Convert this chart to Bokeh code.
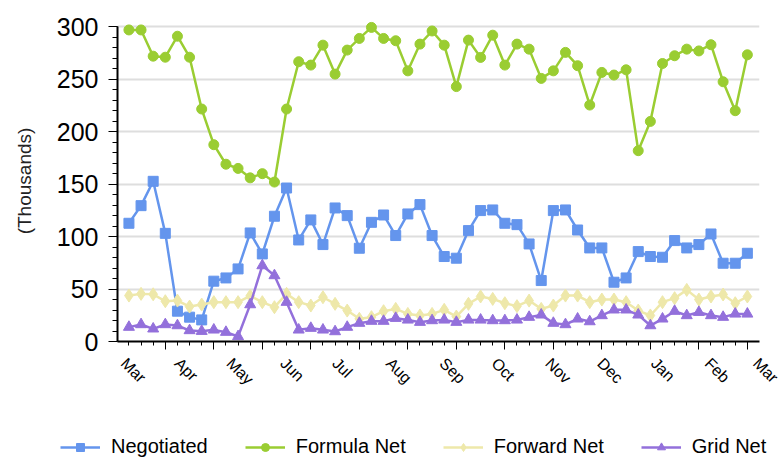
import numpy as np
from bokeh.plotting import figure
from bokeh.layouts import column
from bokeh.models import (FixedTicker, LinearAxis, Range1d, Legend, LegendItem,
                          CustomLabelingPolicy)
from bokeh.embed import file_html
from bokeh.resources import INLINE

# Weekly categories: days since the first week
week_days = [7 * i for i in range(52)]

negotiated = [112.7, 129.5, 152.7, 103.1, 28.9, 23.2, 20.6, 57.5, 60.6, 69.2,
              103.5, 83.5, 119.4, 146.3, 96.8, 115.9, 92.4, 127.3, 120.0, 88.9,
              113.6, 120.6, 101.0, 121.6, 130.5, 101.0, 81.0, 79.4, 105.7, 124.8,
              125.4, 112.7, 111.4, 93.0, 58.1, 124.8, 125.4, 106.3, 89.2, 89.2,
              56.5, 60.6, 85.7, 81.0, 80.3, 96.2, 89.2, 92.4, 102.5, 74.6,
              74.6, 84.1]
formula_net = [297, 297, 272, 271, 291, 271, 221.6, 187.6, 169, 165,
               156, 160, 152, 221.6, 266.7, 263.5, 282.5, 254.9, 277.8, 288.9,
               299.4, 288.9, 286.7, 258, 283.5, 296, 282.5, 243, 287.3, 270.8,
               292, 263.5, 283.5, 278.7, 250.8, 258, 275.6, 262.9, 225.4, 256.5,
               254, 259, 181.9, 209.8, 265, 272.4, 278.7, 277, 282.9, 247.6,
               220, 273.3]
forward_net = [43.8, 45.4, 45.0, 38.4, 39.0, 33.3, 35.2, 37.5, 37.5, 37.5,
               43.5, 37.5, 32.7, 45.4, 37.5, 34.3, 42.2, 35.9, 29.5, 21.6,
               23.2, 28.9, 31.1, 26.3, 24.8, 26.3, 30.2, 23.8, 35.9, 42.9,
               40.6, 36.5, 33.7, 39.0, 31.1, 34.3, 43.8, 43.8, 37.5, 40.0,
               40.0, 37.5, 29.5, 24.8, 37.5, 41.3, 49.2, 40.0, 42.9, 44.8,
               36.5, 42.9]
grid_net = [13.7, 16.2, 12.1, 16.2, 15.2, 10.5, 9.8, 11.1, 8.9, 4.8,
            35.2, 72.4, 62.9, 37.5, 11.1, 12.7, 11.1, 9.5, 13.7, 17.5,
            19.4, 19.4, 22.2, 20.6, 18.4, 20.0, 20.6, 18.4, 20.6, 20.6,
            20.0, 20.0, 20.6, 23.2, 25.4, 17.5, 16.2, 21.6, 19.0, 24.8,
            30.2, 30.2, 25.4, 15.2, 21.6, 28.9, 24.8, 27.9, 24.8, 23.2,
            26.3, 26.3]

month_labels = ["Mar", "Apr", "May", "Jun", "Jul", "Aug", "Sep",
                "Oct", "Nov", "Dec", "Jan", "Feb", "Mar"]
month_start_days = [2, 33, 63, 94, 124, 155, 186, 216, 247, 277, 308, 339, 367]
y_ticks = [0, 50, 100, 150, 200, 250, 300]

FONT = "Liberation Sans"

p = figure(width=781, height=430, output_backend="svg", toolbar_location=None,
           x_range=Range1d(-6.6, 364), y_range=Range1d(0, 306),
           min_border_left=117, min_border_right=22, min_border_top=20,
           min_border_bottom=89)
p.frame_align = False
p.outline_line_color = None
p.xgrid.grid_line_color = None
p.ygrid.grid_line_color = "#dedede"
p.ygrid.grid_line_width = 2

# Y axis
ya = p.yaxis[0]
ya.ticker = FixedTicker(ticks=y_ticks, minor_ticks=list(range(0, 301, 10)))
ya.bounds = (0, 300)
ya.axis_line_color = "black"
ya.axis_line_width = 2
ya.major_tick_out = 9
ya.major_tick_in = 0
ya.minor_tick_out = 5
ya.minor_tick_in = 0
ya.major_tick_line_color = "black"
ya.minor_tick_line_color = "black"
ya.major_label_text_font = FONT
ya.major_label_text_font_size = "25px"
ya.major_label_text_color = "black"
ya.major_label_standoff = 10
ya.axis_label = "(Thousands)"
ya.axis_label_text_font = FONT
ya.axis_label_text_font_size = "19px"
ya.axis_label_text_font_style = "normal"
ya.axis_label_text_color = "#222222"
ya.axis_label_standoff = 19

# X axis with weekly ticks (labels suppressed)
xa = p.xaxis[0]
xa.ticker = FixedTicker(ticks=week_days[3::4], minor_ticks=week_days)
xa.axis_line_color = "black"
xa.axis_line_width = 2
xa.major_tick_out = 8
xa.major_tick_in = 0
xa.minor_tick_out = 4
xa.minor_tick_in = 0
xa.major_tick_line_color = "black"
xa.minor_tick_line_color = "black"
xa.major_label_policy = CustomLabelingPolicy(code="return")
xa.major_label_standoff = 0

# Month label axis
label_pos = [d - 5 for d in month_start_days]
ma = LinearAxis(ticker=FixedTicker(ticks=label_pos, minor_ticks=[]),
                major_label_overrides=dict(zip(label_pos, month_labels)),
                major_label_orientation=-np.pi / 4,
                axis_line_color=None, major_tick_line_color=None,
                minor_tick_line_color=None, major_tick_out=0, major_tick_in=0,
                major_label_standoff=0,
                major_label_text_font=FONT, major_label_text_font_size="16px",
                major_label_text_color="black")
p.add_layout(ma, "below")

series = [
    ("Negotiated", negotiated, "#6495ed", "square", 10),
    ("Formula Net", formula_net, "#9acd32", "circle", 10),
    ("Forward Net", forward_net, "#eee8aa", "diamond", 13),
    ("Grid Net", grid_net, "#9370db", "triangle", 11),
]

# Legend strip below the chart (its copies of the series lie outside its view)
lg = figure(width=781, height=29, output_backend="svg", toolbar_location=None,
            x_range=Range1d(-1000, -990), y_range=Range1d(0, 1),
            x_axis_location=None, y_axis_location=None,
            min_border_left=0, min_border_right=0, min_border_top=0,
            min_border_bottom=0)
lg.frame_align = False
lg.outline_line_color = None
lg.grid.visible = False

items = []
for name, vals, color, marker, size in series:
    p.line(week_days, vals, line_color=color, line_width=2.5)
    p.scatter(week_days, vals, marker=marker, size=size, fill_color=color,
              line_color=color)
    l = lg.line(week_days, vals, line_color=color, line_width=2.5)
    s = lg.scatter(week_days, vals, marker=marker, size=size,
                   fill_color=color, line_color=color)
    items.append(LegendItem(label=name, renderers=[l, s]))

legend = Legend(items=items, orientation="horizontal", location=(60, 1),
                glyph_width=40, glyph_height=20, label_standoff=11, spacing=37,
                label_text_font=FONT, label_text_font_size="20px",
                label_text_color="black", border_line_color=None, padding=0,
                margin=0, background_fill_alpha=0)
lg.add_layout(legend)

layout = column(p, lg, spacing=0)
open("out.html", "w").write(file_html(layout, INLINE))
